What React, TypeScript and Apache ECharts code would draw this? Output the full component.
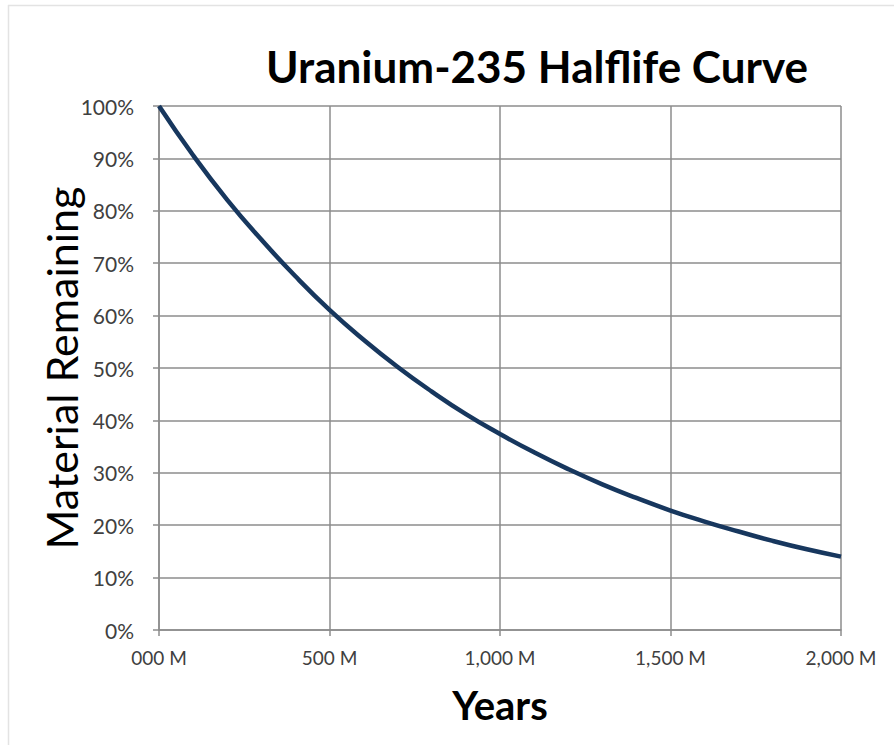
import React, { useEffect, useRef } from "react";
import * as echarts from "echarts";

const titleText = "Uranium-235 Halflife Curve";
const xAxisName = "Years";
const yAxisName = "Material Remaining";
// years in millions
const years = [0, 100, 200, 300, 400, 500, 600, 700, 800, 900, 1000, 1100, 1200, 1300, 1400, 1500, 1600, 1700, 1800, 1900, 2000];
// fraction remaining in percent
const remaining = [100, 90.6, 82.1, 74.5, 67.5, 61.1, 55.4, 50.2, 45.5, 41.2, 37.4, 33.9, 30.7, 27.8, 25.2, 22.8, 20.7, 18.8, 17.0, 15.4, 14.0];

const FONT = "Lato";

export default function App() {
  const ref = useRef<HTMLDivElement>(null);
  useEffect(() => {
    if (!ref.current) return;
    const chart = echarts.init(ref.current, null, { renderer: "svg" });
    chart.setOption({
      animation: false,
      backgroundColor: "#ffffff",
      title: {
        text: titleText,
        left: 532,
        top: 39,
        textAlign: "center",
        textStyle: { fontFamily: FONT, fontSize: 44, fontWeight: "bold", color: "#000000" },
      },
      grid: { left: 159, right: 53, top: 106, bottom: 115, containLabel: false },
      xAxis: {
        type: "value",
        min: 0,
        max: 2000,
        interval: 500,
        name: xAxisName,
        nameLocation: "middle",
        nameGap: 55,
        nameTextStyle: { fontFamily: FONT, fontSize: 40, fontWeight: "bold", color: "#000000" },
        axisLine: { show: true, lineStyle: { color: "#8c8c8c", width: 1.5 } },
        axisTick: { show: true, length: 6, lineStyle: { color: "#8c8c8c", width: 1.5 } },
        splitLine: { show: true, lineStyle: { color: "#8c8c8c", width: 1.5 } },
        axisLabel: {
          fontFamily: FONT,
          fontSize: 19,
          color: "#404040",
          margin: 18,
          formatter: (v: number) => (v === 0 ? "000 M" : v.toLocaleString("en-US") + " M"),
        },
      },
      yAxis: {
        type: "value",
        min: 0,
        max: 100,
        interval: 10,
        name: yAxisName,
        nameLocation: "middle",
        nameGap: 76,
        nameMoveOverlap: false,
        nameTextStyle: { fontFamily: FONT, fontSize: 43, color: "#000000" },
        axisLine: { show: true, lineStyle: { color: "#8c8c8c", width: 1.5 } },
        axisTick: { show: true, length: 6, lineStyle: { color: "#8c8c8c", width: 1.5 } },
        splitLine: { show: true, lineStyle: { color: "#8c8c8c", width: 1.5 } },
        axisLabel: {
          fontFamily: FONT,
          fontSize: 21,
          color: "#404040",
          margin: 25,
          formatter: (v: number) => v + "%",
        },
      },
      graphic: [
        { type: "line", shape: { x1: 8, y1: 5.5, x2: 894, y2: 5.5 }, style: { stroke: "#e3e3e3", lineWidth: 1.5 } },
        { type: "line", shape: { x1: 8.5, y1: 5, x2: 8.5, y2: 745 }, style: { stroke: "#e3e3e3", lineWidth: 1.5 } },
      ],
      series: [
        {
          type: "line",
          data: years.map((y, i) => [y, remaining[i]]),
          smooth: true,
          showSymbol: false,
          lineStyle: { color: "#17375e", width: 4.5 },
        },
      ],
    });
    return () => chart.dispose();
  }, []);
  return (
    <div
      ref={ref}
      style={{ position: "fixed", left: 0, top: 0, width: 894, height: 745 }}
    />
  );
}
